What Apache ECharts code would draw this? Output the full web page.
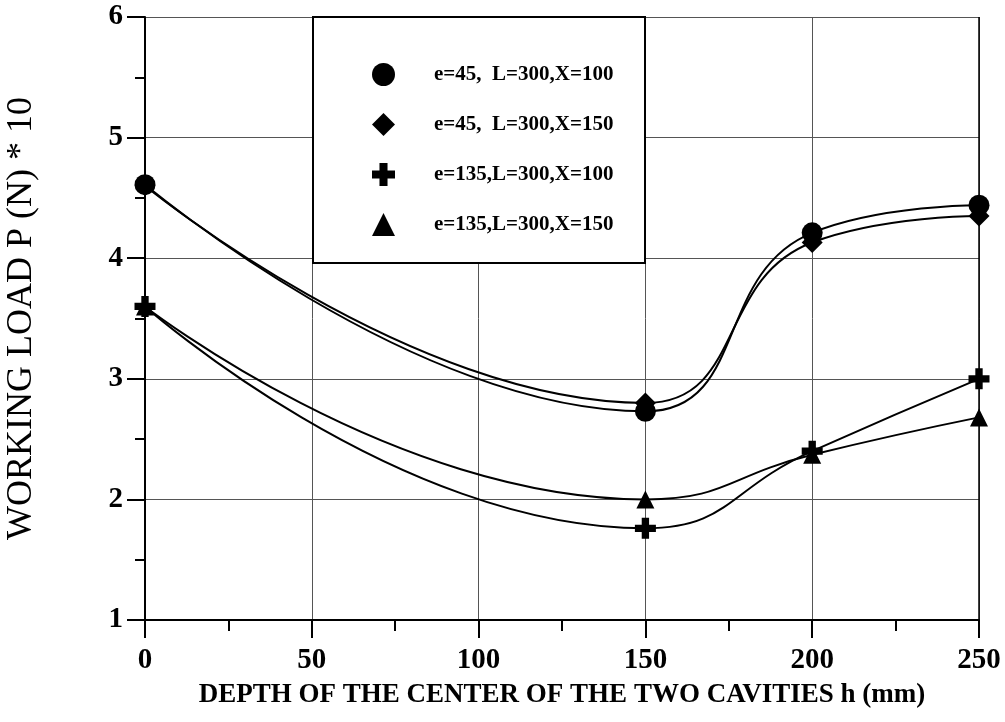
<!DOCTYPE html>
<html>
<head>
<meta charset="utf-8">
<script src="https://cdn.jsdelivr.net/npm/echarts@6/dist/echarts.min.js"></script>
<style>
  html, body { margin: 0; padding: 0; background: #fff; }
  #chart { width: 1005px; height: 722px; }
</style>
</head>
<body>
<div id="chart"></div>
<script>
// depth h (mm)
const depths = [0, 150, 200, 250];
// working load P (N) * 10
const loadE45X100 = [4.61, 2.73, 4.21, 4.44];
const loadE45X150 = [4.60, 2.80, 4.13, 4.35];
const loadE135X100 = [3.60, 1.76, 2.40, 3.00];
const loadE135X150 = [3.60, 2.00, 2.37, 2.68];
const seriesNames = [
  "e=45,  L=300,X=100",
  "e=45,  L=300,X=150",
  "e=135,L=300,X=100",
  "e=135,L=300,X=150",
];

const serif = '"Liberation Serif", "DejaVu Serif", serif';
const plusPath = "path://M-0.35,-1 H0.35 V-0.35 H1 V0.35 H0.35 V1 H-0.35 V0.35 H-1 V-0.35 H-0.35 Z";
const symbols = ["circle", "diamond", plusPath, "triangle"];
const sizes = [21, 21, 21, 18];

function pairs(values) {
  return depths.map((h, i) => [h, values[i]]);
}

const allValues = [loadE45X100, loadE45X150, loadE135X100, loadE135X150];

let chart = echarts.init(document.getElementById("chart"));
chart.setOption({
  animation: false,
  backgroundColor: "#fff",
  grid: { left: 145, right: 26, top: 17, bottom: 102, outerBoundsMode: "none", containLabel: false },
  xAxis: {
    type: "value",
    min: 0,
    max: 250,
    interval: 50,
    name: "DEPTH OF THE CENTER OF THE TWO CAVITIES h (mm)",
    nameLocation: "middle",
    nameGap: 62,
    nameTextStyle: { fontFamily: serif, fontWeight: "bold", fontSize: 27, color: "#000" },
    axisLine: { onZero: false, lineStyle: { color: "#000", width: 2 } },
    axisTick: { length: 18, lineStyle: { color: "#000", width: 2 } },
    minorTick: { show: true, splitNumber: 2, length: 11, lineStyle: { color: "#000", width: 2 } },
    axisLabel: { fontFamily: serif, fontWeight: "bold", fontSize: 29, color: "#000", margin: 26, showMaxLabel: true },
    splitLine: { show: true, lineStyle: { color: "#555", width: 1 } },
  },
  yAxis: {
    type: "value",
    min: 1,
    max: 6,
    interval: 1,
    name: "WORKING LOAD P (N) * 10",
    nameLocation: "middle",
    nameGap: 105,
    nameRotate: 90,
    nameTextStyle: { fontFamily: serif, fontSize: 36, color: "#000" },
    axisLine: { onZero: false, lineStyle: { color: "#000", width: 2 } },
    axisTick: { length: 18, lineStyle: { color: "#000", width: 2 } },
    minorTick: { show: true, splitNumber: 2, length: 10, lineStyle: { color: "#000", width: 2 } },
    axisLabel: { fontFamily: serif, fontWeight: "bold", fontSize: 29, color: "#000", margin: 22 },
    splitLine: { show: true, lineStyle: { color: "#555", width: 1 } },
  },
  graphic: [
    {
      type: "rect",
      z: 5,
      shape: { x: 313, y: 17, width: 332, height: 246 },
      style: { fill: "#fff", stroke: "#000", lineWidth: 2 },
    },
    {
      type: "line",
      z: 5,
      shape: { x1: 979, y1: 17, x2: 979, y2: 620 },
      style: { stroke: "#000", lineWidth: 1.5 },
    },
  ],
  legend: {
    z: 10,
    orient: "vertical",
    left: 367,
    top: 58,
    itemWidth: 23,
    itemHeight: 23,
    itemGap: 27,
    textStyle: { fontFamily: serif, fontWeight: "bold", fontSize: 21, color: "#000", padding: [0, 0, 0, 34] },
    data: seriesNames.map((n, i) => ({ name: n, icon: symbols[i] })),
  },
  series: seriesNames.map((n, i) => ({
    name: n,
    type: "line",
    smooth: 0.5,
    data: pairs(allValues[i]),
    symbol: symbols[i],
    symbolSize: sizes[i],
    itemStyle: { color: "#000" },
    lineStyle: { color: "#000", width: 2 },
    z: 3,
  })),
});
</script>
</body>
</html>
